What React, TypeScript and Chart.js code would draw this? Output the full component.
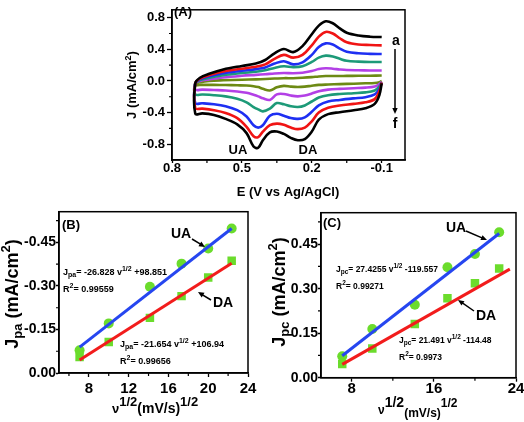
import React, { useEffect, useRef } from 'react';
import { Chart, registerables } from 'chart.js';

Chart.register(...registerables);

const FONT = '"Liberation Sans", Arial, Helvetica, sans-serif';

// ===== Panel (A): cyclic voltammograms (E in V, J in mA/cm2) =====
const cvUpperE = [0.70, 0.68, 0.64, 0.58, 0.50, 0.44, 0.40, 0.36, 0.32, 0.28, 0.24, 0.20, 0.17, 0.14, 0.11, 0.08, 0.05, 0.00, -0.05, -0.10];
const cvLowerE = [-0.10, -0.09, -0.07, -0.03, 0.02, 0.08, 0.13, 0.17, 0.20, 0.23, 0.26, 0.29, 0.32, 0.35, 0.38, 0.41, 0.43, 0.45, 0.48, 0.52, 0.57, 0.62, 0.67, 0.70];

const cvUpperA = [-0.03, 0.04, 0.09, 0.145, 0.19, 0.22, 0.265, 0.35, 0.405, 0.365, 0.44, 0.59, 0.70, 0.755, 0.73, 0.665, 0.61, 0.575, 0.56, 0.555];
const cvUpperB = [-0.03, 0.03, 0.075, 0.12, 0.155, 0.18, 0.21, 0.28, 0.33, 0.295, 0.33, 0.45, 0.56, 0.62, 0.60, 0.54, 0.49, 0.462, 0.455, 0.45];
const cvUpperC = [-0.03, 0.02, 0.06, 0.097, 0.13, 0.15, 0.17, 0.22, 0.25, 0.21, 0.235, 0.33, 0.43, 0.475, 0.46, 0.41, 0.37, 0.35, 0.343, 0.34];
const cvUpperD = [-0.03, 0.01, 0.04, 0.073, 0.10, 0.117, 0.135, 0.165, 0.185, 0.175, 0.185, 0.24, 0.295, 0.32, 0.31, 0.28, 0.255, 0.245, 0.24, 0.24];
const cvUpperE2 = [-0.03, 0.0, 0.02, 0.044, 0.065, 0.077, 0.085, 0.095, 0.10, 0.097, 0.103, 0.125, 0.15, 0.16, 0.155, 0.145, 0.138, 0.135, 0.133, 0.132];
const cvUpperF = [-0.03, -0.015, 0.0, 0.008, 0.015, 0.02, 0.025, 0.03, 0.035, 0.035, 0.04, 0.048, 0.057, 0.062, 0.063, 0.063, 0.064, 0.065, 0.066, 0.068];

const cvLowerA = [-0.03, -0.18, -0.29, -0.345, -0.37, -0.395, -0.42, -0.49, -0.64, -0.735, -0.75, -0.72, -0.67, -0.64, -0.65, -0.75, -0.845, -0.83, -0.66, -0.55, -0.48, -0.43, -0.41, -0.415];
const cvLowerB = [-0.02, -0.13, -0.23, -0.27, -0.29, -0.31, -0.34, -0.40, -0.51, -0.59, -0.61, -0.59, -0.555, -0.54, -0.56, -0.64, -0.71, -0.70, -0.58, -0.47, -0.405, -0.37, -0.35, -0.345];
const cvLowerC = [-0.02, -0.10, -0.17, -0.205, -0.22, -0.24, -0.26, -0.31, -0.39, -0.46, -0.48, -0.47, -0.44, -0.415, -0.44, -0.56, -0.59, -0.56, -0.45, -0.37, -0.32, -0.295, -0.283, -0.28];
const cvLowerD = [-0.02, -0.07, -0.12, -0.145, -0.155, -0.165, -0.18, -0.21, -0.26, -0.31, -0.33, -0.32, -0.295, -0.28, -0.35, -0.385, -0.36, -0.33, -0.27, -0.225, -0.195, -0.18, -0.172, -0.17];
const cvLowerE3 = [-0.01, -0.04, -0.07, -0.085, -0.092, -0.10, -0.11, -0.13, -0.16, -0.185, -0.195, -0.185, -0.165, -0.17, -0.24, -0.22, -0.195, -0.175, -0.15, -0.133, -0.12, -0.115, -0.11, -0.11];
const cvLowerF = [0.0, -0.015, -0.025, -0.03, -0.035, -0.04, -0.045, -0.05, -0.06, -0.072, -0.077, -0.072, -0.062, -0.08, -0.12, -0.10, -0.078, -0.066, -0.058, -0.055, -0.052, -0.05, -0.05, -0.05];

const cvColors = ['#000000', '#f01414', '#1e2ff2', '#1d9a78', '#b340e6', '#6d8a14'];
const cvTicksX = [0.8, 0.5, 0.2, -0.1];
const cvMinorX = [0.65, 0.35, 0.05];
const cvTicksY = [-0.8, -0.4, 0.0, 0.4, 0.8];
const cvMinorY = [-0.6, -0.2, 0.2, 0.6];

// ===== Panels (B) and (C): peak current vs sqrt(scan rate) =====
const sqrtRate = [7.07, 10.0, 14.14, 17.32, 20.0, 22.36];
const jpaUA = [-0.078, -0.171, -0.297, -0.377, -0.429, -0.498];
const jpaDA = [-0.055, -0.107, -0.190, -0.265, -0.329, -0.387];
const jpaFitX = [7.07, 22.36];
const jpaFitUA = [-0.089, -0.498];
const jpaFitDA = [-0.045, -0.378];

const jpcUA = [0.072, 0.164, 0.246, 0.372, 0.417, 0.490];
const jpcDA = [0.046, 0.098, 0.181, 0.268, 0.318, 0.368];
const jpcFitUAX = [7.07, 22.36];
const jpcFitUA = [0.074, 0.486];
const jpcFitDAX = [7.07, 23.4];
const jpcFitDA = [0.045, 0.366];

const bTicksX = [8, 12, 16, 20, 24];
const bMinorX = [6, 10, 14, 18, 22];
const bTicksY = [0, -0.15, -0.3, -0.45];
const bMinorY = [-0.075, -0.225, -0.375, -0.525];
const cTicksX = [8, 16, 24];
const cMinorX = [12, 20];
const cTicksY = [0, 0.15, 0.3, 0.45];
const cMinorY = [0.075, 0.225, 0.375, 0.525];

// ---------- helpers ----------
type Seg = { t: string; s: number; dy?: number };

function drawRich(ctx: any, segs: Seg[], x: number, y: number, align: string, rot = 0) {
  ctx.save();
  ctx.translate(x, y);
  if (rot) ctx.rotate(rot);
  ctx.textAlign = 'left';
  ctx.textBaseline = 'alphabetic';
  ctx.fillStyle = '#000';
  let w = 0;
  segs.forEach((g) => {
    ctx.font = `bold ${g.s}px ${FONT}`;
    w += ctx.measureText(g.t).width;
  });
  let cx = align === 'center' ? -w / 2 : 0;
  segs.forEach((g) => {
    ctx.font = `bold ${g.s}px ${FONT}`;
    ctx.fillText(g.t, cx, g.dy || 0);
    cx += ctx.measureText(g.t).width;
  });
  ctx.restore();
}

function drawArrow(ctx: any, x1: number, y1: number, x2: number, y2: number, head = 6, lw = 1.5) {
  const ang = Math.atan2(y2 - y1, x2 - x1);
  ctx.save();
  ctx.strokeStyle = '#000';
  ctx.fillStyle = '#000';
  ctx.lineWidth = lw;
  ctx.beginPath();
  ctx.moveTo(x1, y1);
  ctx.lineTo(x2 - Math.cos(ang) * head * 0.8, y2 - Math.sin(ang) * head * 0.8);
  ctx.stroke();
  ctx.beginPath();
  ctx.moveTo(x2, y2);
  ctx.lineTo(x2 - head * Math.cos(ang) + head * 0.45 * Math.sin(ang), y2 - head * Math.sin(ang) - head * 0.45 * Math.cos(ang));
  ctx.lineTo(x2 - head * Math.cos(ang) - head * 0.45 * Math.sin(ang), y2 - head * Math.sin(ang) + head * 0.45 * Math.cos(ang));
  ctx.closePath();
  ctx.fill();
  ctx.restore();
}

function framePlugin(minorX: number[], minorY: number[]) {
  return {
    id: 'frame',
    afterDraw(chart: any) {
      const { ctx, chartArea: a, scales } = chart;
      ctx.save();
      ctx.strokeStyle = '#000';
      ctx.lineWidth = 1.5;
      ctx.strokeRect(a.left, a.top, a.right - a.left, a.bottom - a.top);
      ctx.lineWidth = 1.2;
      ctx.beginPath();
      minorX.forEach((v) => {
        const p = scales.x.getPixelForValue(v);
        ctx.moveTo(p, a.bottom);
        ctx.lineTo(p, a.bottom + 3);
      });
      minorY.forEach((v) => {
        const p = scales.y.getPixelForValue(v);
        ctx.moveTo(a.left, p);
        ctx.lineTo(a.left - 3, p);
      });
      ctx.stroke();
      ctx.restore();
    },
  };
}

function axis(o: any) {
  return {
    type: 'linear',
    min: o.min,
    max: o.max,
    reverse: !!o.reverse,
    afterBuildTicks: (s: any) => {
      s.ticks = o.ticks.map((v: number) => ({ value: v }));
    },
    afterFit: (s: any) => {
      if (o.horizontal) s.height = o.fit;
      else s.width = o.fit;
    },
    ticks: {
      callback: (v: any) => Number(v).toFixed(o.dec),
      font: { family: FONT, size: o.size, weight: 'bold' },
      color: '#000',
      padding: o.pad,
      maxRotation: 0,
      autoSkip: false,
    },
    grid: { drawOnChartArea: false, drawTicks: true, tickLength: o.tl, tickColor: '#000', tickWidth: 1.3 },
    border: { display: true, color: '#000', width: 1.5 },
    title: { display: false },
  };
}

function baseOptions(padding: any, x: any, y: any) {
  return {
    responsive: false,
    animation: false,
    events: [],
    devicePixelRatio: 1,
    layout: { padding },
    plugins: { legend: { display: false }, tooltip: { enabled: false } },
    scales: { x, y },
  };
}

function pts(xs: number[], ys: number[]) {
  return xs.map((x, i) => ({ x, y: ys[i] }));
}

// ---------- charts ----------
function makeA(canvas: HTMLCanvasElement) {
  const uppers = [cvUpperA, cvUpperB, cvUpperC, cvUpperD, cvUpperE2, cvUpperF];
  const lowers = [cvLowerA, cvLowerB, cvLowerC, cvLowerD, cvLowerE3, cvLowerF];
  const datasets = uppers.map((u, k) => ({
    data: [...pts(cvLowerE, lowers[k]), ...pts(cvUpperE, u)],
    borderColor: cvColors[k],
    backgroundColor: cvColors[k],
    borderWidth: 2.6,
    pointRadius: 0,
    showLine: true,
    tension: 0.35,
    fill: false,
    order: k,
  }));
  const annot = {
    id: 'annotA',
    afterDraw(chart: any) {
      const ctx = chart.ctx;
      drawRich(ctx, [{ t: '(A)', s: 13 }], 174, 15.5, 'left');
      drawRich(ctx, [{ t: 'UA', s: 13 }], 238, 153.5, 'center');
      drawRich(ctx, [{ t: 'DA', s: 13 }], 308, 153.5, 'center');
      drawRich(ctx, [{ t: 'a', s: 14 }], 396, 45, 'center');
      drawRich(ctx, [{ t: 'f', s: 14 }], 395, 128, 'center');
      drawArrow(ctx, 395, 49, 395, 114, 6, 1.5);
      drawRich(ctx, [{ t: 'E (V vs Ag/AgCl)', s: 13 }], 288, 195.5, 'center');
      drawRich(
        ctx,
        [{ t: 'J (mA/cm', s: 13 }, { t: '2', s: 9, dy: -5 }, { t: ')', s: 13 }],
        135.5, 85, 'center', -Math.PI / 2,
      );
    },
  };
  return new Chart(canvas, {
    type: 'scatter',
    data: { datasets },
    options: baseOptions(
      { left: 0, right: 524 - 405, top: 3, bottom: 422 - 160 - 30 },
      axis({ min: -0.2, max: 0.8, reverse: true, ticks: cvTicksX, dec: 1, size: 13, pad: -2, tl: 3, fit: 30, horizontal: true }),
      axis({ min: -1.0, max: 0.9, ticks: cvTicksY, dec: 1, size: 13, pad: 2, tl: 5, fit: 172 }),
    ),
    plugins: [framePlugin(cvMinorX, cvMinorY), annot],
  } as any);
}

function fitLine(xs: number[], ys: number[], color: string) {
  return {
    data: pts(xs, ys),
    borderColor: color,
    backgroundColor: color,
    borderWidth: 3,
    pointRadius: 0,
    showLine: true,
    tension: 0,
    order: 0,
  };
}
function markers(xs: number[], ys: number[], style: string, r: number) {
  return {
    data: pts(xs, ys),
    backgroundColor: '#6bdc2c',
    borderColor: '#6bdc2c',
    borderWidth: 0,
    pointStyle: style,
    pointRadius: r,
    showLine: false,
    order: 1,
  };
}

function makeB(canvas: HTMLCanvasElement) {
  const annot = {
    id: 'annotB',
    afterDraw(chart: any) {
      const ctx = chart.ctx;
      drawRich(ctx, [{ t: '(B)', s: 13 }], 62, 228.5, 'left');
      drawRich(ctx, [{ t: 'UA', s: 14 }], 181, 238, 'center');
      drawArrow(ctx, 192, 239, 205, 247, 6, 1.5);
      drawRich(ctx, [{ t: 'DA', s: 14 }], 223, 307, 'center');
      drawArrow(ctx, 211, 300, 198, 292, 6, 1.5);
      drawRich(ctx, [{ t: 'J', s: 9 }, { t: 'pa', s: 7, dy: 2 }, { t: '= -26.828 v', s: 9 }, { t: '1/2', s: 7, dy: -4 }, { t: ' +98.851', s: 9 }], 63, 274.5, 'left');
      drawRich(ctx, [{ t: 'R', s: 9 }, { t: '2', s: 7, dy: -4 }, { t: '= 0.99559', s: 9 }], 63, 291.5, 'left');
      drawRich(ctx, [{ t: 'J', s: 9 }, { t: 'pa', s: 7, dy: 2 }, { t: '= -21.654 v', s: 9 }, { t: '1/2', s: 7, dy: -4 }, { t: ' +106.94', s: 9 }], 120, 346.5, 'left');
      drawRich(ctx, [{ t: 'R', s: 9 }, { t: '2', s: 7, dy: -4 }, { t: '= 0.99656', s: 9 }], 120, 363.5, 'left');
      drawRich(ctx, [{ t: 'ν', s: 13 }, { t: '1/2', s: 13, dy: -7 }, { t: '(mV/s)', s: 14 }, { t: '1/2', s: 13, dy: -7 }], 112, 413, 'left');
      drawRich(
        ctx,
        [{ t: 'J', s: 18 }, { t: 'pa', s: 13, dy: 4 }, { t: ' (mA/cm', s: 18 }, { t: '2', s: 13, dy: -8 }, { t: ')', s: 18 }],
        18, 294, 'center', -Math.PI / 2,
      );
    },
  };
  return new Chart(canvas, {
    type: 'scatter',
    data: {
      datasets: [
        fitLine(jpaFitX, jpaFitUA, '#2646f0'),
        fitLine(jpaFitX, jpaFitDA, '#f21c1c'),
        markers(sqrtRate, jpaUA, 'circle', 5),
        markers(sqrtRate, jpaDA, 'rect', 6),
      ],
    },
    options: baseOptions(
      { left: 0, right: 524 - 248, top: 211.7, bottom: 422 - 373 - 40 },
      axis({ min: 5, max: 24, ticks: bTicksX, dec: 0, size: 15, pad: 3, tl: 4, fit: 40, horizontal: true }),
      axis({ min: -0.556, max: 0, reverse: true, ticks: bTicksY, dec: 2, size: 14, pad: 0, tl: 3, fit: 59 }),
    ),
    plugins: [framePlugin(bMinorX, bMinorY), annot],
  } as any);
}

function makeC(canvas: HTMLCanvasElement) {
  const annot = {
    id: 'annotC',
    afterDraw(chart: any) {
      const ctx = chart.ctx;
      drawRich(ctx, [{ t: '(C)', s: 13 }], 323, 226.5, 'left');
      drawRich(ctx, [{ t: 'UA', s: 14 }], 456, 232, 'center');
      drawArrow(ctx, 466, 231, 487, 240, 6, 1.5);
      drawRich(ctx, [{ t: 'DA', s: 14 }], 486, 320, 'center');
      drawArrow(ctx, 474, 311, 458, 300, 6, 1.5);
      drawRich(ctx, [{ t: 'J', s: 8.5 }, { t: 'pc', s: 6.5, dy: 2 }, { t: '= 27.4255 v', s: 8.5 }, { t: '1/2', s: 6.5, dy: -4 }, { t: ' -119.557', s: 8.5 }], 336, 271.5, 'left');
      drawRich(ctx, [{ t: 'R', s: 8.5 }, { t: '2', s: 6.5, dy: -4 }, { t: '= 0.99271', s: 8.5 }], 336, 288.5, 'left');
      drawRich(ctx, [{ t: 'J', s: 8.5 }, { t: 'pc', s: 6.5, dy: 2 }, { t: '= 21.491 v', s: 8.5 }, { t: '1/2', s: 6.5, dy: -4 }, { t: ' -114.48', s: 8.5 }], 399, 342.5, 'left');
      drawRich(ctx, [{ t: 'R', s: 8.5 }, { t: '2', s: 6.5, dy: -4 }, { t: '= 0.9973', s: 8.5 }], 399, 359.5, 'left');
      drawRich(ctx, [{ t: 'ν', s: 12 }, { t: '1/2', s: 14, dy: -7 }, { t: '(mV/s)', s: 12, dy: 3 }, { t: '1/2', s: 12, dy: -7 }], 378, 414, 'left');
      drawRich(
        ctx,
        [{ t: 'J', s: 18 }, { t: 'pc', s: 13, dy: 4 }, { t: ' (mA/cm', s: 18 }, { t: '2', s: 13, dy: -8 }, { t: ')', s: 18 }],
        285, 292, 'center', -Math.PI / 2,
      );
    },
  };
  return new Chart(canvas, {
    type: 'scatter',
    data: {
      datasets: [
        fitLine(jpcFitUAX, jpcFitUA, '#2646f0'),
        fitLine(jpcFitDAX, jpcFitDA, '#f21c1c'),
        markers(sqrtRate, jpcUA, 'circle', 5),
        markers(sqrtRate, jpcDA, 'rect', 6),
      ],
    },
    options: baseOptions(
      { left: 262, right: 524 - 516, top: 212.7, bottom: 422 - 377.7 - 40 },
      axis({ min: 5, max: 24, ticks: cTicksX, dec: 0, size: 15, pad: -2, tl: 4, fit: 40, horizontal: true }),
      axis({ min: 0, max: 0.556, ticks: cTicksY, dec: 2, size: 14, pad: 0, tl: 3, fit: 59 }),
    ),
    plugins: [framePlugin(cMinorX, cMinorY), annot],
  } as any);
}

export default function App() {
  const refA = useRef<HTMLCanvasElement>(null);
  const refB = useRef<HTMLCanvasElement>(null);
  const refC = useRef<HTMLCanvasElement>(null);

  useEffect(() => {
    const charts = [makeA(refA.current!), makeB(refB.current!), makeC(refC.current!)];
    return () => charts.forEach((c) => c.destroy());
  }, []);

  const cs: any = { position: 'absolute', left: 0, top: 0, width: 524, height: 422 };
  return (
    <div style={{ position: 'absolute', left: 0, top: 0, width: 524, height: 422, background: '#fff' }}>
      <canvas ref={refA} width={524} height={422} style={cs} />
      <canvas ref={refB} width={524} height={422} style={cs} />
      <canvas ref={refC} width={524} height={422} style={cs} />
    </div>
  );
}
